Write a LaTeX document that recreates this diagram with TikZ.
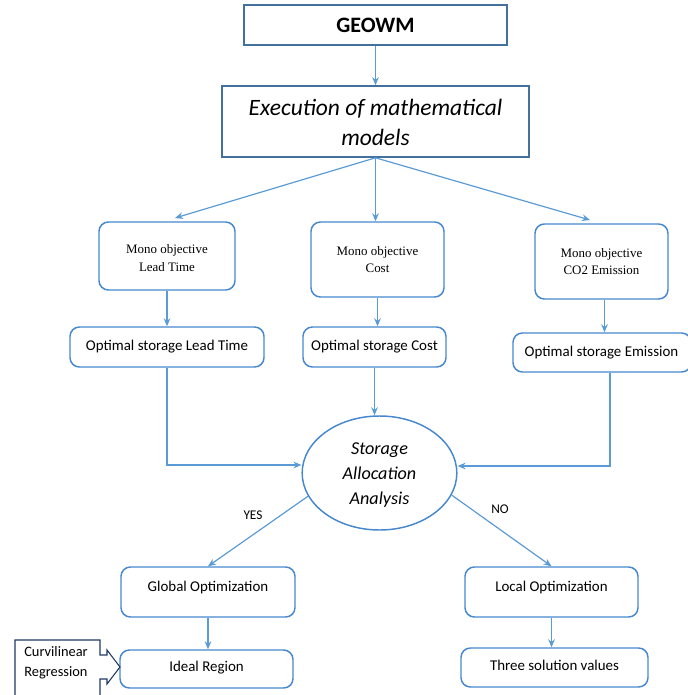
\documentclass[tikz,border=0pt]{standalone}
\usepackage{fontspec}
\setmainfont{Carlito}
\newfontfamily\timesf{Liberation Serif}
\usetikzlibrary{arrows.meta,fit,shapes.geometric,calc}
\definecolor{sqblue}{RGB}{65,113,156}
\definecolor{rbblue}{RGB}{70,135,205}
\definecolor{arblue}{RGB}{91,155,213}
\definecolor{navy}{RGB}{32,56,100}
\tikzset{
  sq/.style={draw=sqblue, line width=1.2pt, inner sep=0pt},
  rb/.style={draw=rbblue, line width=1.1pt, rounded corners=7pt, inner sep=0pt},
  txt/.style={inner sep=0pt, align=center},
  arr/.style={draw=arblue, line width=0.9pt, -{Stealth[length=6pt,width=5pt]}},
  mono/.style={txt, font=\timesf\fontsize{9.7}{13}\selectfont},
  opt/.style={txt, font=\fontsize{11.2}{13}\selectfont},
}
\begin{document}
\begin{tikzpicture}[x=0.75pt,y=-0.75pt]
\useasboundingbox (0,0) rectangle (687,695);
% boxes
\node[sq, fit={(244,5)(507,45)}] (geo) {};
\node[sq, fit={(222,86)(529,157)}] (exe) {};
\node[rb, fit={(99,222)(235,290)}] (mlt) {};
\node[rb, fit={(311,222)(444,297)}] (mc) {};
\node[rb, fit={(535,224)(668,299)}] (mco) {};
\node[rb, fit={(70,327)(264,367)}] (olt) {};
\node[rb, fit={(303,327)(446,367)}] (oc) {};
\node[rb, fit={(513,333)(691,372)}] (oem) {};
\node[ellipse, draw=rbblue, line width=1.1pt, minimum width=116pt, minimum height=85.5pt, inner sep=0pt] (ana) at (379.5,473) {};
\node[rb, fit={(121,567)(295,617)}] (glob) {};
\node[rb, fit={(465,567)(638,617)}] (loc) {};
\node[rb, fit={(120,650)(293,688)}] (ideal) {};
\node[rb, fit={(461,648)(648,687)}] (three) {};

% texts
\node[txt, font=\bfseries\fontsize{16.5}{18}\selectfont] (geot) at (geo.center) {GEOWM};
\node[txt, font=\itshape\fontsize{17.6}{22}\selectfont] (exet) at ($(exe.center)+(0,1)$) {Execution of mathematical\\models};
\node[mono] (mltt) at ($(mlt.center)+(0,2)$) {Mono objective\\Lead Time};
\node[mono] (mct) at (mc.center) {Mono objective\\Cost};
\node[mono] (mcot) at (mco.center) {Mono objective\\CO2 Emission};
\node[opt] (oltt) at (olt.center) {Optimal storage Lead Time};
\node[opt] (oct) at (oc.center) {Optimal storage Cost};
\node[opt] (oemt) at ($(oem.center)+(-0.5,0)$) {Optimal storage Emission};
\node[txt, font=\itshape\fontsize{13.6}{18.5}\selectfont] (anat) at ($(ana.center)+(0,2)$) {Storage\\Allocation\\Analysis};
\node[opt] (globt) at ($(glob.center)+(0,-4)$) {Global Optimization};
\node[opt] (loct) at ($(loc.center)+(0,-4)$) {Local Optimization};
\node[opt] (idealt) at ($(ideal.center)+(0,-1)$) {Ideal Region};
\node[opt] (threet) at ($(three.center)+(0,-2)$) {Three solution values};

\node[font=\fontsize{10}{11}\selectfont] (yes) at (253,515) {YES};
\node[font=\fontsize{10}{11}\selectfont] (no) at (500,509) {NO};

% Curvilinear regression callout
\draw[navy, line width=0.8pt] (15,696) -- (15,640) -- (100,640) -- (100,655) -- (107,655) -- (107,650) -- (120,667) -- (107,684) -- (107,679) -- (100,679) -- (100,696);
\node[font=\fontsize{10.8}{15}\selectfont, align=left, inner sep=0pt] (cr) at (56,663) {Curvilinear\\Regression};

% connectors
\draw[arr] (geo.south) -- (exe.north);
\coordinate (t1) at (175,218);
\coordinate (t3) at (590,220);
\draw[arr] (exe.south) -- (t1);
\draw[arr] (exe.south) -- (exe.south |- mc.north);
\draw[arr] (exe.south) -- (t3);
\draw[arr] (mlt.south) -- (mlt.south |- olt.north);
\draw[arr] (mc.south) -- (mc.south |- oc.north);
\draw[arr] ($(mco.south)+(3,0)$) -- ($(mco.south |- oem.north)+(3,0)$);
\draw[arr] (olt.south) |- ($(ana.west)+(0,-8)$);
\draw[arr] (oc.south) -- (oc.south |- ana.north);
\draw[arr] ($(oem.south)+(8,0)$) |- ($(ana.east)+(0,-7)$);
\draw[arr] (ana.198) -- (glob.north);
\draw[arr] (ana.-17) -- (loc.north);
\draw[arr] (glob.south) -- (glob.south |- ideal.north);
\draw[arr] (loc.south) -- (loc.south |- three.north);
\end{tikzpicture}
\end{document}
